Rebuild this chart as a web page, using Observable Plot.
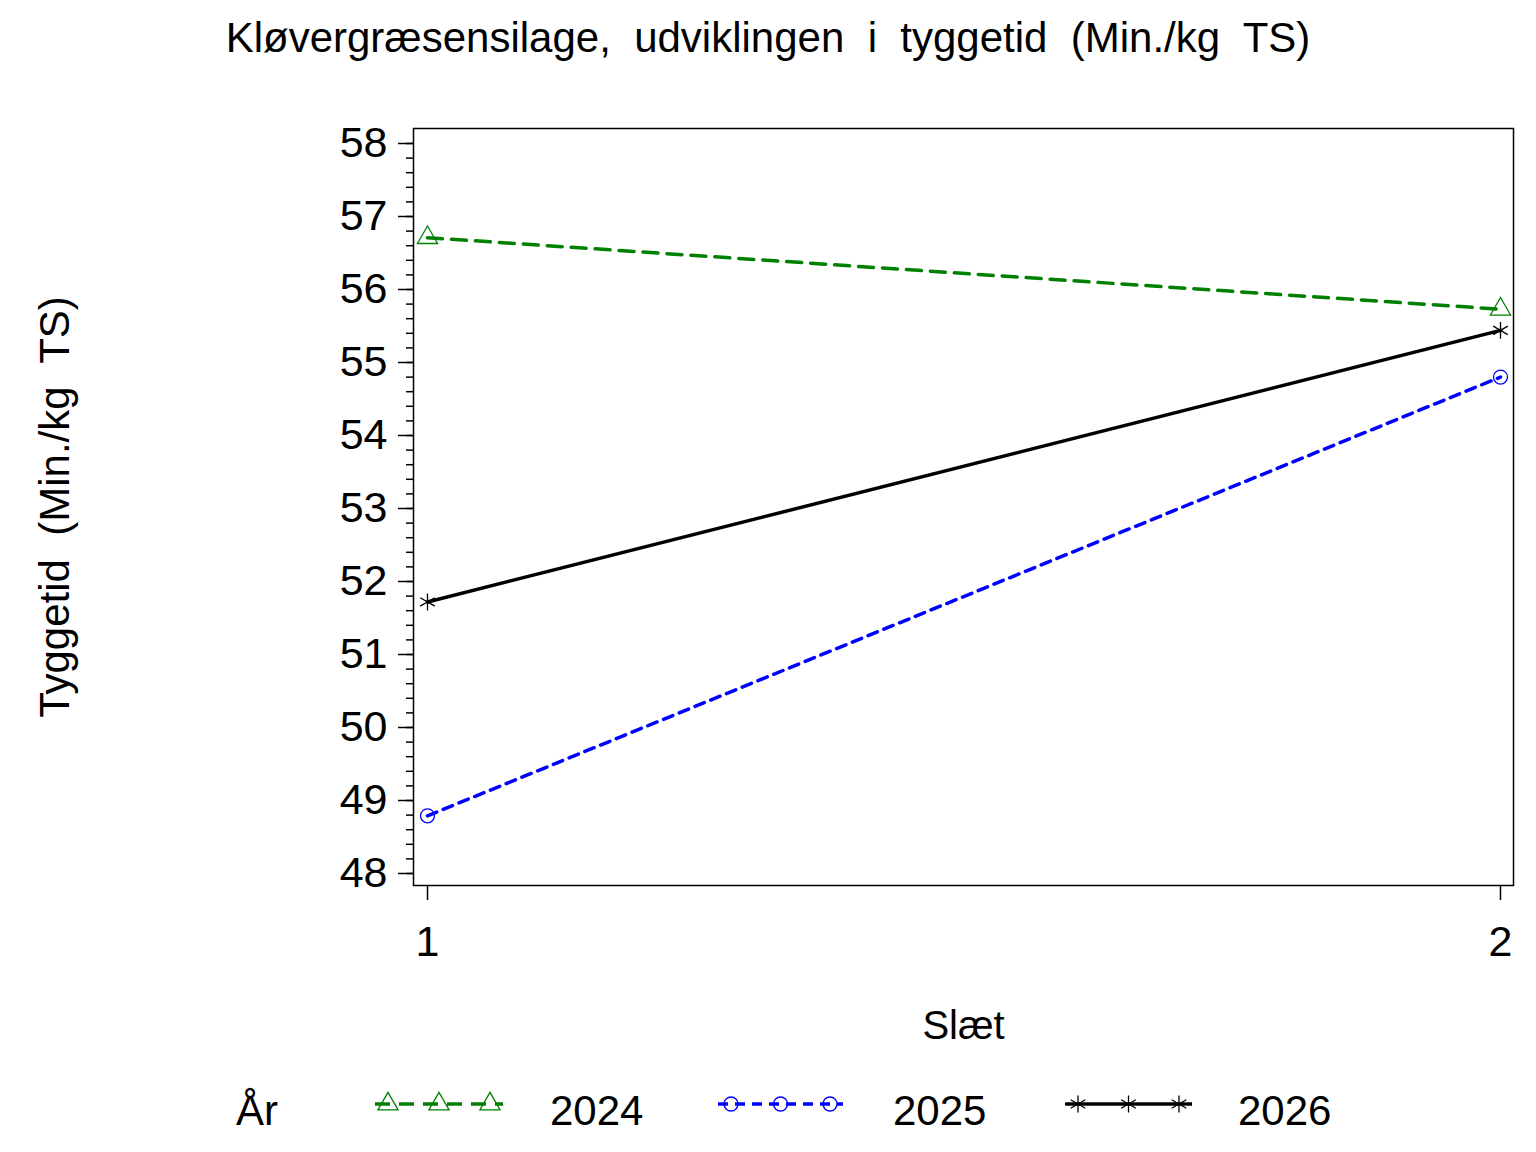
<!DOCTYPE html>
<html><head><meta charset="utf-8">
<script src="https://cdn.jsdelivr.net/npm/d3@7"></script>
<script src="https://cdn.jsdelivr.net/npm/@observablehq/plot@0.6"></script>
<style>
body{margin:0;background:#fff;font-family:"Liberation Sans",Arial,sans-serif;color:#000;}
#title{height:80px;width:1536px;text-align:center;font-size:42px;line-height:76px;white-space:pre;}
#chart svg, #legend svg{display:block;}
</style></head><body>
<div id="title"></div>
<div id="chart"></div>
<div id="legend"></div>
<script>
const title = "Kløvergræsensilage,  udviklingen  i  tyggetid  (Min./kg  TS)";
const xLabel = "Slæt";
const yLabel = "Tyggetid  (Min./kg  TS)";
const legendTitle = "År";
const slaet = [1, 2];
const years = ["2024", "2025", "2026"];
const values2024 = [56.71, 55.73];
const values2025 = [48.79, 54.80];
const values2026 = [51.72, 55.44];
const xTicks = [1, 2];
const yMajorTicks = [48, 49, 50, 51, 52, 53, 54, 55, 56, 57, 58];
const yMinorTicks = d3.range(48, 58.0001, 0.2).map(v => +v.toFixed(1));

const colors = ["#008000", "#0000ff", "#000000"];
const dashes = ["15,9", "10,7", null];
const symbols = ["triangle", "circle", "asterisk"];
const radii = [7.5, 7, 8];
const seriesValues = [values2024, values2025, values2026];

document.getElementById("title").textContent = title;

const rows = years.flatMap((yr, i) => slaet.map((s, j) => ({year: yr, slaet: s, value: seriesValues[i][j]})));

const seriesMarks = years.flatMap((yr, i) => {
  const d = rows.filter(r => r.year === yr);
  return [
    Plot.line(d, {x: "slaet", y: "value", stroke: colors[i], strokeWidth: 3.5, strokeDasharray: dashes[i] ?? undefined}),
    Plot.dot(d, {x: "slaet", y: "value", symbol: () => symbols[i], stroke: colors[i], fill: "none", r: radii[i], strokeWidth: 1.3})
  ];
});

const plot = Plot.plot({
  width: 1536,
  height: 985,
  marginTop: 48,
  marginBottom: 180,
  marginLeft: 413,
  marginRight: 23,
  style: {fontFamily: '"Liberation Sans", Arial, sans-serif', fontSize: "40px", color: "#000", background: "#fff"},
  x: {domain: [0.98695, 2.01212]},
  y: {domain: [47.8356, 58.2055]},
  symbol: {type: "identity"},
  marks: [
    Plot.axisY(yMinorTicks, {tickSize: 7, tickFormat: () => "", label: null, strokeWidth: 1.5}),
    Plot.axisY(yMajorTicks, {tickSize: 15, tickPadding: 11, tickFormat: "d", label: null, strokeWidth: 1.5, fontSize: 43}),
    Plot.axisX(xTicks, {tickSize: 15, tickPadding: 25, tickFormat: "d", label: null, strokeWidth: 1.5, fontSize: 43}),
    Plot.frame({stroke: "#000", strokeWidth: 1.5}),
    ...seriesMarks,
    Plot.text([xLabel], {text: d => d, frameAnchor: "bottom", dy: 141, fontSize: 40, lineAnchor: "middle"}),
    Plot.text([yLabel], {text: d => d, frameAnchor: "left", dx: -358, rotate: -90, fontSize: 42, lineAnchor: "middle", textAnchor: "middle"})
  ]
});
document.getElementById("chart").appendChild(plot);

// legend
const lsvg = d3.select("#legend").append("svg").attr("width", 1536).attr("height", 87)
  .style("font-family", '"Liberation Sans", Arial, sans-serif');
lsvg.append("text").attr("x", 236).attr("y", 60).attr("font-size", 42).text(legendTitle);
const items = [{x1: 375, x2: 503, lx: 550}, {x1: 718, x2: 843, lx: 893}, {x1: 1065, x2: 1192, lx: 1238}];
const symGen = {triangle: d3.symbolTriangle, circle: d3.symbolCircle, asterisk: d3.symbolAsterisk};
items.forEach((it, i) => {
  const ly = 39;
  lsvg.append("line").attr("x1", it.x1).attr("x2", it.x2).attr("y1", ly).attr("y2", ly)
    .attr("stroke", colors[i]).attr("stroke-width", 3.5).attr("stroke-dasharray", dashes[i]);
  const p = d3.symbol(symGen[symbols[i]], radii[i] * radii[i] * Math.PI)();
  [it.x1 + 13, (it.x1 + it.x2) / 2, it.x2 - 13].forEach(mx => {
    lsvg.append("path").attr("d", p).attr("transform", `translate(${mx},${ly})`)
      .attr("fill", "none").attr("stroke", colors[i]).attr("stroke-width", 1.3);
  });
  lsvg.append("text").attr("x", it.lx).attr("y", 60).attr("font-size", 42).text(years[i]);
});
</script>
</body></html>
